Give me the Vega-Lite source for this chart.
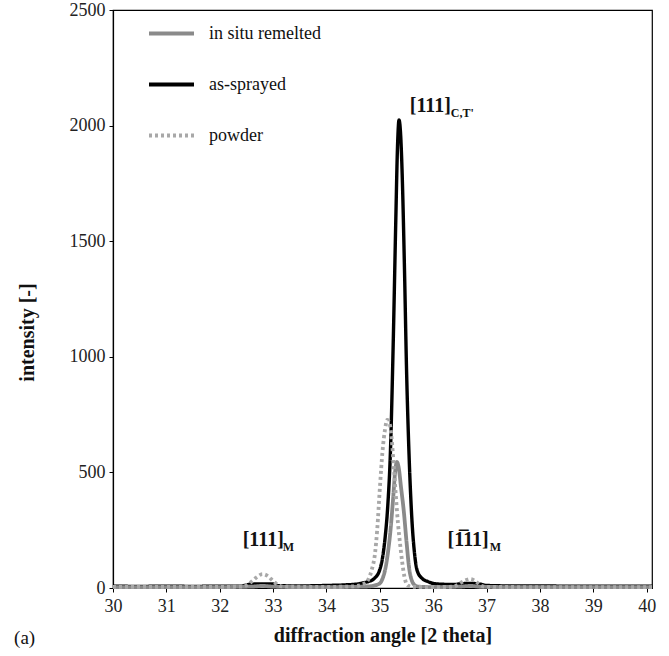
{
  "$schema": "https://vega.github.io/schema/vega-lite/v6.json",
  "autosize": "none",
  "padding": {"left": 113, "top": 10, "right": 17, "bottom": 68},
  "width": 539,
  "height": 578,
  "background": "white",
  "config": {
    "font": "Times New Roman, Liberation Serif, serif",
    "style": {
      "guide-label": {"font": "Times New Roman, Liberation Serif, serif", "fontSize": 18, "fill": "#222"},
      "guide-title": {"font": "Times New Roman, Liberation Serif, serif", "fontSize": 20, "fontWeight": "bold", "fill": "#111"}
    },
    "view": {"stroke": "black", "strokeWidth": 1.2},
    "axis": {
      "grid": false,
      "domainColor": "black",
      "domainWidth": 1.2,
      "tickColor": "black",
      "tickSize": 4,
      "labelFont": "Times New Roman, Liberation Serif, serif",
      "labelFontSize": 18,
      "labelColor": "#222",
      "titleFont": "Times New Roman, Liberation Serif, serif",
      "titleFontSize": 20,
      "titleFontWeight": "bold",
      "titleColor": "#111"
    },
    "legend": {
      "orient": "none",
      "legendX": 34,
      "legendY": -1,
      "padding": 0,
      "symbolType": "stroke",
      "symbolSize": 2025,
      "symbolStrokeWidth": 4,
      "labelFont": "Times New Roman, Liberation Serif, serif",
      "labelFontSize": 18,
      "labelColor": "#111",
      "labelOffset": 13,
      "rowPadding": 17,
      "title": null
    },
    "text": {"font": "Times New Roman, Liberation Serif, serif"}
  },
  "datasets": {
    "curves": [
      {"series": "as-sprayed", "angle": 30.0, "intensity": 8},
      {"series": "as-sprayed", "angle": 30.5, "intensity": 7},
      {"series": "as-sprayed", "angle": 31.0, "intensity": 8},
      {"series": "as-sprayed", "angle": 31.5, "intensity": 7},
      {"series": "as-sprayed", "angle": 32.0, "intensity": 8},
      {"series": "as-sprayed", "angle": 32.4, "intensity": 8},
      {"series": "as-sprayed", "angle": 32.5, "intensity": 13},
      {"series": "as-sprayed", "angle": 32.6, "intensity": 17},
      {"series": "as-sprayed", "angle": 32.8, "intensity": 18},
      {"series": "as-sprayed", "angle": 33.0, "intensity": 17},
      {"series": "as-sprayed", "angle": 33.1, "intensity": 10},
      {"series": "as-sprayed", "angle": 33.5, "intensity": 9},
      {"series": "as-sprayed", "angle": 34.0, "intensity": 11},
      {"series": "as-sprayed", "angle": 34.3, "intensity": 13},
      {"series": "as-sprayed", "angle": 34.6, "intensity": 18},
      {"series": "as-sprayed", "angle": 34.7, "intensity": 23},
      {"series": "as-sprayed", "angle": 34.8, "intensity": 29},
      {"series": "as-sprayed", "angle": 34.9, "intensity": 42},
      {"series": "as-sprayed", "angle": 35.0, "intensity": 80},
      {"series": "as-sprayed", "angle": 35.05, "intensity": 130},
      {"series": "as-sprayed", "angle": 35.1, "intensity": 220},
      {"series": "as-sprayed", "angle": 35.15, "intensity": 360},
      {"series": "as-sprayed", "angle": 35.2, "intensity": 600},
      {"series": "as-sprayed", "angle": 35.25, "intensity": 1050},
      {"series": "as-sprayed", "angle": 35.3, "intensity": 1600},
      {"series": "as-sprayed", "angle": 35.33, "intensity": 1900},
      {"series": "as-sprayed", "angle": 35.36, "intensity": 2024},
      {"series": "as-sprayed", "angle": 35.39, "intensity": 1960},
      {"series": "as-sprayed", "angle": 35.42, "intensity": 1780},
      {"series": "as-sprayed", "angle": 35.46, "intensity": 1400},
      {"series": "as-sprayed", "angle": 35.5, "intensity": 950},
      {"series": "as-sprayed", "angle": 35.55, "intensity": 560},
      {"series": "as-sprayed", "angle": 35.6, "intensity": 300},
      {"series": "as-sprayed", "angle": 35.65, "intensity": 150},
      {"series": "as-sprayed", "angle": 35.7, "intensity": 75},
      {"series": "as-sprayed", "angle": 35.8, "intensity": 40},
      {"series": "as-sprayed", "angle": 35.9, "intensity": 28},
      {"series": "as-sprayed", "angle": 36.0, "intensity": 20},
      {"series": "as-sprayed", "angle": 36.2, "intensity": 16},
      {"series": "as-sprayed", "angle": 36.4, "intensity": 15},
      {"series": "as-sprayed", "angle": 36.5, "intensity": 18},
      {"series": "as-sprayed", "angle": 36.7, "intensity": 20},
      {"series": "as-sprayed", "angle": 36.9, "intensity": 16},
      {"series": "as-sprayed", "angle": 37.0, "intensity": 11},
      {"series": "as-sprayed", "angle": 37.5, "intensity": 9},
      {"series": "as-sprayed", "angle": 38.0, "intensity": 9},
      {"series": "as-sprayed", "angle": 38.5, "intensity": 8},
      {"series": "as-sprayed", "angle": 39.0, "intensity": 8},
      {"series": "as-sprayed", "angle": 39.5, "intensity": 8},
      {"series": "as-sprayed", "angle": 40.1, "intensity": 8},

      {"series": "in situ remelted", "angle": 30.0, "intensity": 4},
      {"series": "in situ remelted", "angle": 31.0, "intensity": 4},
      {"series": "in situ remelted", "angle": 32.0, "intensity": 4},
      {"series": "in situ remelted", "angle": 32.6, "intensity": 6},
      {"series": "in situ remelted", "angle": 32.8, "intensity": 9},
      {"series": "in situ remelted", "angle": 33.0, "intensity": 6},
      {"series": "in situ remelted", "angle": 33.5, "intensity": 4},
      {"series": "in situ remelted", "angle": 34.0, "intensity": 4},
      {"series": "in situ remelted", "angle": 34.5, "intensity": 5},
      {"series": "in situ remelted", "angle": 34.8, "intensity": 7},
      {"series": "in situ remelted", "angle": 34.9, "intensity": 11},
      {"series": "in situ remelted", "angle": 35.0, "intensity": 20},
      {"series": "in situ remelted", "angle": 35.05, "intensity": 40},
      {"series": "in situ remelted", "angle": 35.1, "intensity": 80},
      {"series": "in situ remelted", "angle": 35.15, "intensity": 150},
      {"series": "in situ remelted", "angle": 35.2, "intensity": 250},
      {"series": "in situ remelted", "angle": 35.25, "intensity": 390},
      {"series": "in situ remelted", "angle": 35.29, "intensity": 510},
      {"series": "in situ remelted", "angle": 35.32, "intensity": 545},
      {"series": "in situ remelted", "angle": 35.35, "intensity": 525},
      {"series": "in situ remelted", "angle": 35.4, "intensity": 430},
      {"series": "in situ remelted", "angle": 35.45, "intensity": 330},
      {"series": "in situ remelted", "angle": 35.5, "intensity": 200},
      {"series": "in situ remelted", "angle": 35.55, "intensity": 85},
      {"series": "in situ remelted", "angle": 35.6, "intensity": 32},
      {"series": "in situ remelted", "angle": 35.65, "intensity": 13},
      {"series": "in situ remelted", "angle": 35.7, "intensity": 7},
      {"series": "in situ remelted", "angle": 35.8, "intensity": 5},
      {"series": "in situ remelted", "angle": 36.0, "intensity": 4},
      {"series": "in situ remelted", "angle": 36.5, "intensity": 6},
      {"series": "in situ remelted", "angle": 36.7, "intensity": 9},
      {"series": "in situ remelted", "angle": 36.9, "intensity": 5},
      {"series": "in situ remelted", "angle": 37.5, "intensity": 4},
      {"series": "in situ remelted", "angle": 38.5, "intensity": 4},
      {"series": "in situ remelted", "angle": 39.5, "intensity": 4},
      {"series": "in situ remelted", "angle": 40.1, "intensity": 4},

      {"series": "powder", "angle": 30.0, "intensity": 5},
      {"series": "powder", "angle": 31.0, "intensity": 5},
      {"series": "powder", "angle": 32.0, "intensity": 5},
      {"series": "powder", "angle": 32.4, "intensity": 6},
      {"series": "powder", "angle": 32.5, "intensity": 12},
      {"series": "powder", "angle": 32.6, "intensity": 28},
      {"series": "powder", "angle": 32.7, "intensity": 48},
      {"series": "powder", "angle": 32.8, "intensity": 60},
      {"series": "powder", "angle": 32.9, "intensity": 52},
      {"series": "powder", "angle": 33.0, "intensity": 30},
      {"series": "powder", "angle": 33.1, "intensity": 12},
      {"series": "powder", "angle": 33.2, "intensity": 6},
      {"series": "powder", "angle": 34.0, "intensity": 5},
      {"series": "powder", "angle": 34.5, "intensity": 7},
      {"series": "powder", "angle": 34.7, "intensity": 18},
      {"series": "powder", "angle": 34.78, "intensity": 35},
      {"series": "powder", "angle": 34.85, "intensity": 80},
      {"series": "powder", "angle": 34.91, "intensity": 150},
      {"series": "powder", "angle": 34.95, "intensity": 250},
      {"series": "powder", "angle": 35.0, "intensity": 430},
      {"series": "powder", "angle": 35.05, "intensity": 590},
      {"series": "powder", "angle": 35.1, "intensity": 690},
      {"series": "powder", "angle": 35.14, "intensity": 727},
      {"series": "powder", "angle": 35.18, "intensity": 715},
      {"series": "powder", "angle": 35.22, "intensity": 650},
      {"series": "powder", "angle": 35.26, "intensity": 530},
      {"series": "powder", "angle": 35.3, "intensity": 400},
      {"series": "powder", "angle": 35.34, "intensity": 280},
      {"series": "powder", "angle": 35.38, "intensity": 190},
      {"series": "powder", "angle": 35.42, "intensity": 110},
      {"series": "powder", "angle": 35.46, "intensity": 50},
      {"series": "powder", "angle": 35.5, "intensity": 18},
      {"series": "powder", "angle": 35.55, "intensity": 8},
      {"series": "powder", "angle": 35.6, "intensity": 5},
      {"series": "powder", "angle": 36.0, "intensity": 4},
      {"series": "powder", "angle": 36.3, "intensity": 5},
      {"series": "powder", "angle": 36.4, "intensity": 8},
      {"series": "powder", "angle": 36.5, "intensity": 20},
      {"series": "powder", "angle": 36.6, "intensity": 33},
      {"series": "powder", "angle": 36.7, "intensity": 39},
      {"series": "powder", "angle": 36.8, "intensity": 28},
      {"series": "powder", "angle": 36.9, "intensity": 10},
      {"series": "powder", "angle": 37.0, "intensity": 5},
      {"series": "powder", "angle": 38.0, "intensity": 4},
      {"series": "powder", "angle": 39.0, "intensity": 4},
      {"series": "powder", "angle": 40.1, "intensity": 4}
    ],
    "labels": [
      {"angle": 35.56, "intensity": 2059, "text": "[111]"},
      {"angle": 32.43, "intensity": 182, "text": "[111]"},
      {"angle": 36.27, "intensity": 182, "text": "[1\u030511]"}
    ],
    "subs": [
      {"angle": 36.33, "intensity": 2038, "text": "C,T'"},
      {"angle": 33.18, "intensity": 160, "text": "M"},
      {"angle": 37.06, "intensity": 160, "text": "M"}
    ],
    "panel": [
      {"angle": 28.146, "intensity": -242, "text": "(a)"}
    ]
  },
  "encoding": {
    "x": {
      "field": "angle", "type": "quantitative",
      "scale": {"domain": [30, 40.1], "nice": false, "zero": false},
      "axis": {"values": [30, 31, 32, 33, 34, 35, 36, 37, 38, 39, 40], "format": "d", "title": "diffraction angle [2 theta]", "labelPadding": 5, "titlePadding": 10, "labelFlush": false}
    },
    "y": {
      "field": "intensity", "type": "quantitative",
      "scale": {"domain": [0, 2500], "nice": false},
      "axis": {"values": [0, 500, 1000, 1500, 2000, 2500], "format": "d", "title": "intensity [-]", "labelPadding": 4, "titleX": -86, "titleY": 322, "titleBaseline": "middle", "titleAngle": -90, "titleAlign": "center"}
    }
  },
  "layer": [
    {
      "data": {"name": "curves"},
      "transform": [{"filter": "datum.series === 'as-sprayed'"}],
      "mark": {"type": "line", "strokeWidth": 3.4, "interpolate": "monotone"},
      "encoding": {
        "color": {"field": "series", "type": "nominal", "scale": {"domain": ["in situ remelted", "as-sprayed", "powder"], "range": ["#8a8a8a", "#000000", "#a8a8a8"]}},
        "strokeDash": {"field": "series", "type": "nominal", "scale": {"domain": ["in situ remelted", "as-sprayed", "powder"], "range": [[1, 0], [1, 0], [3, 3]]}}
      }
    },
    {
      "data": {"name": "curves"},
      "transform": [{"filter": "datum.series === 'in situ remelted'"}],
      "mark": {"type": "line", "strokeWidth": 3.8, "interpolate": "monotone"},
      "encoding": {
        "color": {"field": "series", "type": "nominal"},
        "strokeDash": {"field": "series", "type": "nominal"}
      }
    },
    {
      "data": {"name": "curves"},
      "transform": [{"filter": "datum.series === 'powder'"}],
      "mark": {"type": "line", "strokeWidth": 3.8, "interpolate": "monotone"},
      "encoding": {
        "color": {"field": "series", "type": "nominal"},
        "strokeDash": {"field": "series", "type": "nominal"}
      }
    },
    {
      "data": {"name": "labels"},
      "mark": {"type": "text", "align": "left", "baseline": "alphabetic", "fontSize": 20, "fontWeight": "bold", "color": "#111"},
      "encoding": {"text": {"field": "text"}}
    },
    {
      "data": {"name": "subs"},
      "mark": {"type": "text", "align": "left", "baseline": "alphabetic", "fontSize": 12, "fontWeight": "bold", "color": "#111"},
      "encoding": {"text": {"field": "text"}}
    },
    {
      "data": {"name": "panel"},
      "mark": {"type": "text", "align": "left", "baseline": "alphabetic", "fontSize": 19, "color": "#111", "clip": false},
      "encoding": {"text": {"field": "text"}}
    }
  ]
}
